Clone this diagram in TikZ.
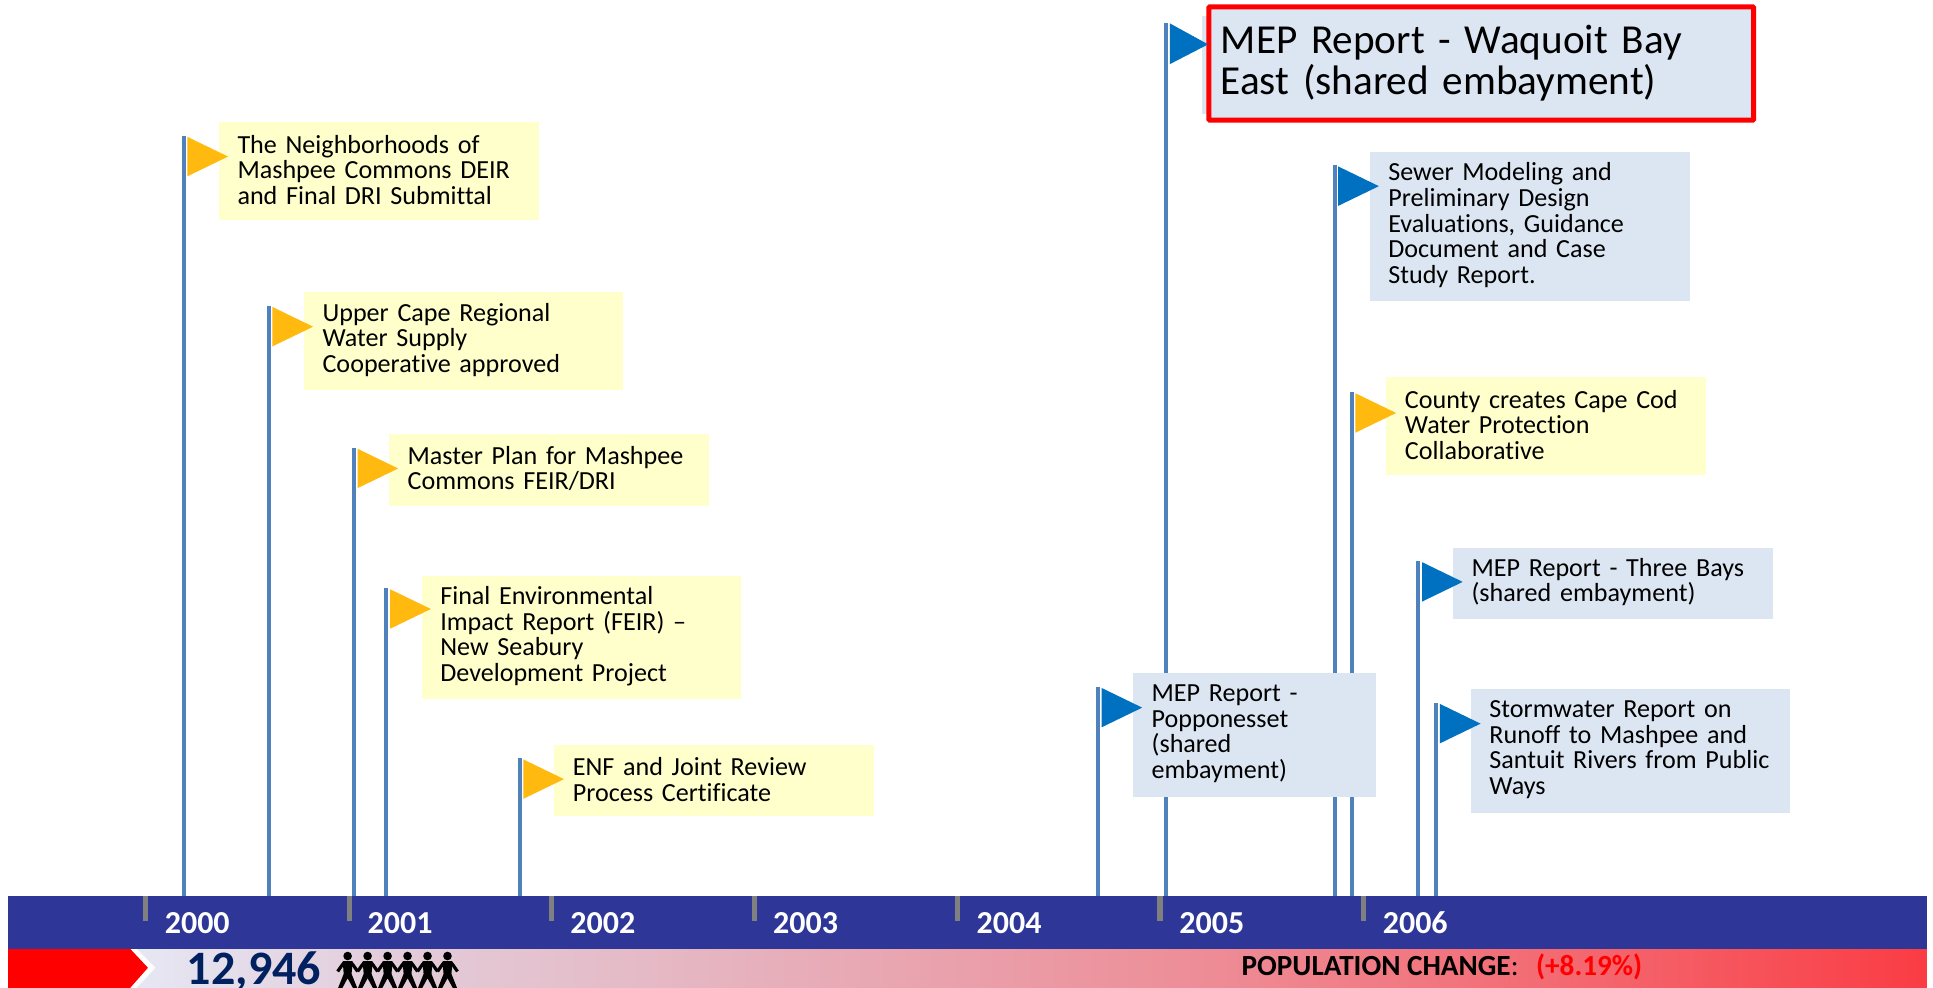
\documentclass[tikz,border=0pt]{standalone}
\usepackage{fontspec}
\setmainfont[Ligatures=CommonOff]{Carlito}
\definecolor{polecol}{HTML}{4F81BD}
\definecolor{flagblue}{HTML}{0070C0}
\definecolor{flagyel}{HTML}{FFB90F}
\definecolor{boxyel}{HTML}{FFFFCC}
\definecolor{boxblue}{HTML}{DCE6F2}
\definecolor{barcol}{HTML}{2E3697}
\definecolor{popnavy}{HTML}{002060}
\definecolor{gra}{HTML}{E6E9F5}
\definecolor{grb}{HTML}{E4CEDC}
\definecolor{grc}{HTML}{E4BCC8}
\definecolor{grd}{HTML}{EE8A94}
\definecolor{gre}{HTML}{F4656D}
\definecolor{grf}{HTML}{FA3C44}
\newcommand{\fs}[2]{\fontsize{#1}{#2}\selectfont}
\tikzset{
  x=1.2328pt,y=-1.2328pt,
  pole/.style={draw=polecol,line width=4pt},
  tick/.style={draw=gray,line width=5.5pt},
  notebox/.style={anchor=north west,align=left,inner xsep=18.5pt,inner ysep=0pt,text=black,font=\fs{26.1}{25.6}},
  yearlabel/.style={anchor=center,text=white,font=\bfseries\fs{32}{34},inner sep=0pt},
}
% name, pole x, pole top, flag colour, box left, top, right, bottom, box colour, text in \notetext
\newcommand{\flagnote}[9]{%
  \coordinate (#1b) at (#2,727);
  \coordinate (#1t) at (#2,#3);
  \draw[pole] (#1b) -- (#1t);
  \node[notebox,fill=#9,minimum width=(#7-#5)*1.2328pt,minimum height=(#8-#6)*1.2328pt,text width=(#7-#5)*1.2328pt-37pt] (#1) at (#5,#6) {\hyphenpenalty=10000 \notetext\par\vspace{2.5pt}};
  \fill[#4] (#2+3,#3+1) -- (#2+36,#3+17) -- (#2+3,#3+33) -- cycle;
}
\begin{document}
\begin{tikzpicture}
\useasboundingbox (0,0) rectangle (1568,801.4);
\begin{scope}
\clip (0,0) rectangle (1568,801.4);
% population strip
\shade[left color=gra,right color=grb] (100,769) rectangle (300,802);
\shade[left color=grb,right color=grc] (299.5,769) rectangle (500,802);
\shade[left color=grc,right color=grd] (499.5,769) rectangle (1000,802);
\shade[left color=grd,right color=gre] (999.5,769) rectangle (1300,802);
\shade[left color=gre,right color=grf] (1299.5,769) rectangle (1563,802);
\fill[white] (100,769) -- (110,769) -- (126,785) -- (110,802) -- (100,802) -- cycle;
\fill[red] (6.5,769) -- (105,769) -- (120,785) -- (105,802) -- (6.5,802) -- cycle;
\node[anchor=west,inner sep=0pt,text=popnavy,font=\bfseries\fs{48}{50}] (count) at (151.5,788) {12,946};
% people
\foreach \i in {0,...,5}{
  \pgfmathsetmacro{\cx}{282+16.2*\i}
  \fill[black] (\cx,775.5) circle (3.5);
  \draw[black,line width=3.2pt,line join=miter] (\cx-8.1,788) -- (\cx-4.6,783) -- (\cx-3,781) -- (\cx+3,781) -- (\cx+4.6,783) -- (\cx+8.1,788);
  \fill[black] (\cx-4,780) -- (\cx+4,780) -- (\cx+3.2,790) -- (\cx+8,802) -- (\cx+4.6,802) -- (\cx,793.5) -- (\cx-4.6,802) -- (\cx-8,802) -- (\cx-3.2,790) -- cycle;
}
\node[anchor=west,inner sep=0pt,font=\bfseries\fs{29.2}{31}] (popchange) at (1007,784.5) {POPULATION CHANGE\textmd{:}\hspace{0.6em}\textcolor{red}{(+8.19\%)}};
\end{scope}
% axis bar
\node[fill=barcol,inner sep=0pt,anchor=north west,minimum width=1556.5*1.2328pt,minimum height=42.5*1.2328pt] (bar) at (6.5,727) {};
\foreach \n/\x/\lx/\yr in {a/118/160/2000,b/283.5/324.5/2001,c/447.5/489/2002,d/612/653.5/2003,e/776.5/818.5/2004,f/941/983/2005,g/1106/1148/2006}{
  \coordinate (tick\n a) at (\x,727);
  \coordinate (tick\n b) at (\x,747);
  \draw[tick] (tick\n a) -- (tick\n b);
  \node[yearlabel] (yr\n) at (\lx,748.5) {\yr};
}
% highlighted note
\coordinate (n7b) at (946,727);
\coordinate (n7t) at (946,19);
\draw[pole] (n7b) -- (n7t);
\node[fill=boxblue,inner sep=0pt,anchor=north west,minimum width=440*1.2328pt,minimum height=79*1.2328pt] (n7back) at (975,13) {};
\node[draw=red,line width=5pt,rounded corners=1pt,fill=boxblue,anchor=north west,align=left,inner xsep=12pt,inner ysep=0pt,minimum width=442*1.2328pt,minimum height=92*1.2328pt,text width=442*1.2328pt-24pt,font=\fs{41.2}{41}] (n7) at (978.5,3.5) {MEP Report - Waquoit Bay\\East (shared embayment)\par\vspace{8pt}};
\fill[flagblue] (949,19) -- (980,36) -- (949,52) -- cycle;
% notes
\def\notetext{The Neighborhoods of\\Mashpee Commons DEIR\\and Final DRI Submittal}
\flagnote{n1}{149}{110}{flagyel}{177.5}{99}{437}{178}{boxyel}
\def\notetext{Upper Cape Regional\\Water Supply\\Cooperative approved}
\flagnote{n2}{218}{248}{flagyel}{246.5}{237}{505}{316}{boxyel}
\def\notetext{Master Plan for Mashpee\\Commons FEIR/DRI}
\flagnote{n3}{287}{363}{flagyel}{315.5}{352}{575}{410}{boxyel}
\def\notetext{Final Environmental\\Impact Report (FEIR) --\\New Seabury\\Development Project}
\flagnote{n4}{313.5}{477}{flagyel}{342}{467}{601}{567}{boxyel}
\def\notetext{ENF and Joint Review\\Process Certificate}
\flagnote{n5}{421.5}{615}{flagyel}{449.5}{604}{709}{662}{boxyel}
\def\notetext{Sewer Modeling and\\Preliminary Design\\Evaluations, Guidance\\Document and Case\\Study Report.}
\flagnote{n8}{1082.5}{134}{flagblue}{1111}{123}{1370.5}{244}{boxblue}
\def\notetext{County creates Cape Cod\\Water Protection\\Collaborative}
\flagnote{n9}{1096.5}{318}{flagyel}{1124.5}{306}{1384}{385}{boxyel}
\def\notetext{MEP Report - Three Bays\\(shared embayment)}
\flagnote{n10}{1150.5}{455}{flagblue}{1178.5}{444}{1438}{502}{boxblue}
\def\notetext{Stormwater Report on\\Runoff to Mashpee and\\Santuit Rivers from Public\\Ways}
\flagnote{n11}{1165}{570}{flagblue}{1193}{559}{1452}{659}{boxblue}
\def\notetext{MEP Report -\\Popponesset\\(shared\\embayment)}
\flagnote{n6}{890.5}{557}{flagblue}{919}{546}{1116}{646}{boxblue}
\end{tikzpicture}
\end{document}
